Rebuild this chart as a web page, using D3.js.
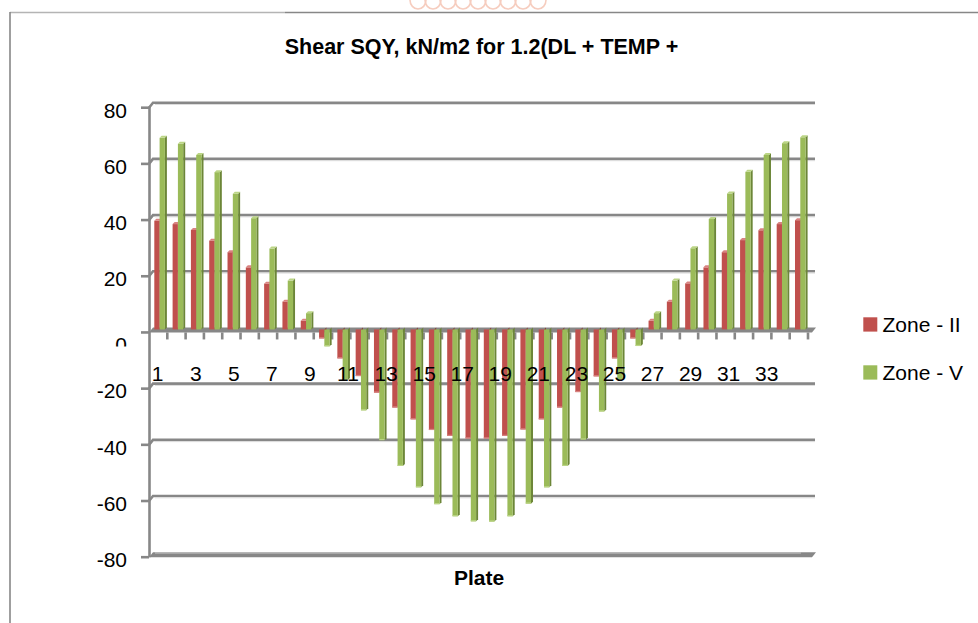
<!DOCTYPE html>
<html>
<head>
<meta charset="utf-8">
<script src="https://cdn.jsdelivr.net/npm/d3@7"></script>
<style>
  body { margin: 0; background: #fff; }
  svg { display: block; font-family: "Liberation Sans", Arial, sans-serif; }
</style>
</head>
<body>
<svg id="chart" width="978" height="623"></svg>
<script>
// Plate numbers along the category axis
const plates = [1, 2, 3, 4, 5, 6, 7, 8, 9, 10, 11, 12, 13, 14, 15, 16, 17, 18,
                19, 20, 21, 22, 23, 24, 25, 26, 27, 28, 29, 30, 31, 32, 33, 34, 35, 36];

// Shear SQY (kN/m2) per plate
const zoneII = [38.7, 37.5, 35.4, 31.6, 27.5, 22.1, 16.3, 9.9, 3.1,
                -3.2, -10.3, -16.6, -22.5, -27.8, -32.0, -35.8, -37.9, -38.8,
                -38.8, -37.9, -35.6, -32.0, -27.8, -22.3, -16.7, -10.3, -3.2,
                3.1, 9.9, 16.4, 22.1, 27.5, 31.8, 35.3, 37.5, 38.9];
const zoneV  = [68.2, 66.1, 62.1, 56.0, 48.3, 39.6, 28.8, 17.4, 5.8,
                -6.0, -18.0, -28.8, -39.4, -48.6, -56.2, -62.2, -66.5, -68.3,
                -68.4, -66.5, -62.0, -56.2, -48.6, -39.2, -29.2, -18.0, -5.9,
                5.8, 17.4, 28.9, 39.3, 48.4, 56.1, 62.1, 66.3, 68.4];

const seriesNames = ["Zone - II", "Zone - V"];
const yTicks = [-80, -60, -40, -20, 0, 20, 40, 60, 80];
const xTickLabels = [1, 3, 5, 7, 9, 11, 13, 15, 17, 19, 21, 23, 25, 27, 29, 31, 33];

const titleText = "Shear SQY, kN/m2 for 1.2(DL + TEMP +";
const xTitle = "Plate";

// colours: front face, side face, top face
const palette = {
  "Zone - II": { front: "#C0504D", side: "#8C3836", top: "#D98381" },
  "Zone - V":  { front: "#9BBB59", side: "#6C8638", top: "#BBD585" }
};
const axisGrey = "#878787";

const svg = d3.select("#chart");

// depth offset between the front edge and the back wall of the 3-D box
const DX = 4, DY = -5;

// value scale measured on the back wall
const y = d3.scaleLinear().domain([-80, 80]).range([552.2, 102.7]);
// category bands on the front edge
const x = d3.scaleBand().domain(plates).range([149, 808]);
// category label positions
const xLab = d3.scaleBand().domain(plates).range([148.2, 833.3]);

const xFront = 149, xBackEnd = 815;

// decorative header ornament
const orn = svg.append("g").attr("fill", "none").attr("stroke", "#f6cdbf").attr("stroke-width", 1.6);
d3.range(9).forEach(i => {
  const cx = 418 + i * 15;
  orn.append("path").attr("d", `M${cx - 8},0 A8,9 0 0 0 ${cx + 8},0`);
});

// outer frame
svg.append("line").attr("x1", 10).attr("y1", 12.5).attr("x2", 285).attr("y2", 12.5)
  .attr("stroke", "#b4b4b4").attr("stroke-width", 1.6);
svg.append("line").attr("x1", 285).attr("y1", 12.5).attr("x2", 978).attr("y2", 12.5)
  .attr("stroke", axisGrey).attr("stroke-width", 1.6);
svg.append("line").attr("x1", 10).attr("y1", 12).attr("x2", 10).attr("y2", 623)
  .attr("stroke", axisGrey).attr("stroke-width", 1.6);

// gridlines on the back wall with their corner joins to the value axis
const grid = svg.append("g");
yTicks.filter(t => t !== -80 && t !== 0).forEach(t => {
  const yb = y(t);
  grid.append("path")
    .attr("d", `M${xFront},${yb - DY} L${xFront + DX},${yb} L${xBackEnd},${yb}`)
    .attr("fill", "none").attr("stroke", axisGrey).attr("stroke-width", 2.6);
  grid.append("line").attr("x1", xFront + DX + 2).attr("x2", xBackEnd)
    .attr("y1", yb + 1.8).attr("y2", yb + 1.8)
    .attr("stroke", "#dcdcdc").attr("stroke-width", 1);
});

// floor plane at -80 and the zero plane
function plane(v) {
  const yb = y(v);
  return `M${xFront},${yb - DY} L${xBackEnd - 3},${yb - DY} L${xBackEnd + 1},${yb} L${xFront + DX},${yb} Z`;
}
svg.append("path").attr("d", plane(-80)).attr("fill", axisGrey);
svg.append("line").attr("x1", xFront + DX + 2).attr("x2", xBackEnd - 14)
  .attr("y1", y(-80) + 0.8).attr("y2", y(-80) + 0.8)
  .attr("stroke", "#c9c9c9").attr("stroke-width", 1);
svg.append("path").attr("d", plane(0)).attr("fill", axisGrey);

// value axis line and ticks
svg.append("line").attr("x1", xFront + 0.5).attr("x2", xFront + 0.5)
  .attr("y1", y(80) - DY - 1).attr("y2", y(-80) - DY)
  .attr("stroke", axisGrey).attr("stroke-width", 2.6);
svg.append("g").selectAll("line").data(yTicks).join("line")
  .attr("x1", 141).attr("x2", xFront)
  .attr("y1", d => y(d) - DY).attr("y2", d => y(d) - DY)
  .attr("stroke", axisGrey).attr("stroke-width", 2.6);

// category ticks below the zero plane
svg.append("g").selectAll("line").data(plates).join("line")
  .attr("x1", d => x(d) + x.bandwidth()).attr("x2", d => x(d) + x.bandwidth())
  .attr("y1", y(0) - DY).attr("y2", y(0) - DY + 7)
  .attr("stroke", axisGrey).attr("stroke-width", 2.6);

// 3-D columns
const barW = 5.3, depth = 2;
function drawSeries(values, name, offset) {
  const c = palette[name];
  const g = svg.append("g").attr("class", "series");
  values.forEach((v, i) => {
    const p = plates[i];
    const x0 = x(p) + 5.3 + offset;
    const x1 = x0 + barW;
    const yv = y(v), y0 = y(0);
    const top = Math.min(yv, y0), bot = Math.max(yv, y0);
    // side face
    g.append("path")
      .attr("d", `M${x1},${top + depth} L${x1 + depth},${top} L${x1 + depth},${bot} L${x1},${bot + depth} Z`)
      .attr("fill", c.side);
    // front face
    g.append("rect").attr("x", x0).attr("y", top + depth)
      .attr("width", barW).attr("height", bot - top).attr("fill", c.front);
    if (v > 0) {
      g.append("path")
        .attr("d", `M${x0},${yv + depth} L${x0 + depth},${yv} L${x1 + depth},${yv} L${x1},${yv + depth} Z`)
        .attr("fill", c.top);
    } else {
      g.append("rect").attr("x", x0).attr("y", yv + depth - 1.2)
        .attr("width", barW).attr("height", 1.2).attr("fill", c.top);
    }
  });
}
drawSeries(zoneII, "Zone - II", 0);
drawSeries(zoneV, "Zone - V", barW);

// value axis labels
const fs = 21;
const clip = svg.append("defs").append("clipPath").attr("id", "zeroClip");
clip.append("rect").attr("x", 90).attr("y", 330).attr("width", 50).attr("height", 16.5);
svg.append("g").selectAll("text").data(yTicks).join("text")
  .attr("x", 127)
  .attr("y", d => d === 0 ? y(d) + 25 : y(d) + 14.8)
  .attr("text-anchor", "end")
  .attr("font-size", fs).attr("fill", "#000")
  .attr("clip-path", d => d === 0 ? "url(#zeroClip)" : null)
  .text(d => d);

// category labels
svg.append("g").selectAll("text").data(xTickLabels).join("text")
  .attr("x", d => xLab(d) + xLab.bandwidth() / 2)
  .attr("y", 380.7)
  .attr("text-anchor", "middle")
  .attr("font-size", fs).attr("fill", "#000")
  .text(d => d);

// title and axis title
svg.append("text").attr("x", 481.5).attr("y", 53.5).attr("text-anchor", "middle")
  .attr("font-size", 21.5).attr("font-weight", "bold").attr("fill", "#000")
  .text(titleText);
svg.append("text").attr("x", 479).attr("y", 585).attr("text-anchor", "middle")
  .attr("font-size", 21).attr("font-weight", "bold").attr("fill", "#000")
  .text(xTitle);

// legend
const legend = svg.append("g");
seriesNames.forEach((name, i) => {
  const ly = 317.3 + i * 48;
  legend.append("rect").attr("x", 863.3).attr("y", ly).attr("width", 14).attr("height", 14.3)
    .attr("fill", palette[name].front);
  legend.append("text").attr("x", 882.5).attr("y", ly + 14.5)
    .attr("font-size", fs).attr("fill", "#000").text(name);
});
</script>
</body>
</html>
